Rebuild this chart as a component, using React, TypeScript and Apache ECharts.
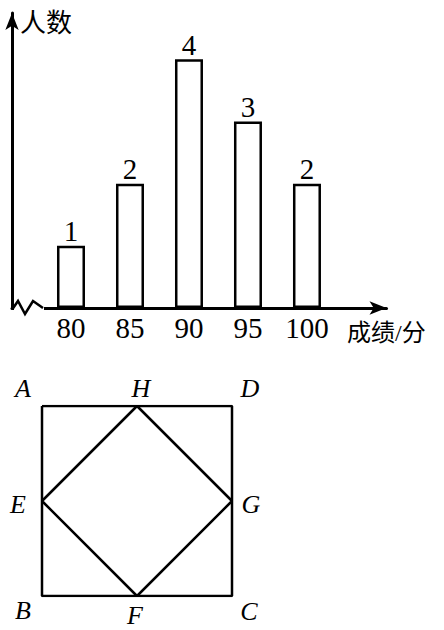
import React, { useEffect, useRef } from "react";
import * as echarts from "echarts";

// ---- bar chart data ----
const scores = [80, 85, 90, 95, 100];
const counts = [1, 2, 4, 3, 2];
const xTickLabels = [80, 85, 90, 95, 100];
const xAxisName = "成绩/分";
const yAxisName = "人数";

// ---- figure data (square ABCD with midpoints E, F, G, H) ----
const pointNames = ["A", "B", "C", "D", "E", "F", "G", "H"];
const pointX = [0, 0, 4, 4, 0, 2, 4, 2];
const pointY = [4, 0, 0, 4, 2, 0, 2, 4];
const squarePath = ["A", "B", "C", "D", "A"];
const diamondPath = ["E", "F", "G", "H", "E"];

// label placement (style, not data)
const labelOffsets: Record<string, [number, number]> = {
  A: [-19, -18],
  B: [-19, 14],
  C: [17, 15],
  D: [18, -18],
  E: [-24, 3],
  F: [-2, 19],
  G: [19, 3],
  H: [4, -18],
};

const SERIF = "Liberation Serif, serif";
const CJK = "Liberation Serif, Noto Sans CJK SC, sans-serif";

const coord = (n: string) => {
  const i = pointNames.indexOf(n);
  return [pointX[i], pointY[i]];
};

export default function App() {
  const ref = useRef<HTMLDivElement>(null);
  useEffect(() => {
    if (!ref.current) return;
    const chart = echarts.init(ref.current, undefined, { renderer: "svg" });
    const axisLineStyle = { color: "#000", width: 3 };
    chart.setOption({
      animation: false,
      backgroundColor: "#fff",
      textStyle: { fontFamily: SERIF },
      grid: [
        { left: 12, top: 13, width: 374.5, height: 295 },
        { left: 42, top: 406, width: 190, height: 190 },
      ],
      xAxis: [
        {
          gridIndex: 0,
          type: "value",
          min: 75,
          max: 106.74,
          interval: 5,
          splitLine: { show: false },
          axisTick: { show: false },
          axisLabel: { show: false },
          axisLine: {
            show: true,
            onZero: false,
            symbol: ["none", "arrow"],
            symbolSize: [10, 17],
            lineStyle: axisLineStyle,
          },
        },
        { gridIndex: 1, type: "value", min: 0, max: 4, show: false },
      ],
      yAxis: [
        {
          gridIndex: 0,
          type: "value",
          min: 0,
          max: 4.745,
          splitLine: { show: false },
          axisTick: { show: false },
          axisLabel: { show: false },
          axisLine: {
            show: true,
            onZero: false,
            symbol: ["none", "arrow"],
            symbolSize: [10, 17],
            lineStyle: axisLineStyle,
          },
        },
        { gridIndex: 1, type: "value", min: 0, max: 4, show: false },
      ],
      series: [
        {
          type: "bar",
          xAxisIndex: 0,
          yAxisIndex: 0,
          barWidth: 28,
          data: scores.map((s, i) => [s, counts[i]]),
          itemStyle: { color: "#fff", borderColor: "#000", borderWidth: 2.5 },
          label: {
            show: true,
            position: "top",
            distance: 0,
            fontSize: 29,
            fontFamily: SERIF,
            color: "#000",
            formatter: (p: any) => String(p.value[1]),
          },
        },
        {
          // x-axis tick labels, placed through the x scale
          type: "scatter",
          xAxisIndex: 0,
          yAxisIndex: 0,
          symbolSize: 0,
          clip: false,
          silent: true,
          itemStyle: { opacity: 1, color: "#000" },
          data: xTickLabels.map((v) => [v, 0]),
          label: {
            show: true,
            position: "bottom",
            distance: 5,
            fontSize: 29,
            fontFamily: SERIF,
            color: "#000",
            formatter: (p: any) => String(p.value[0]),
          },
        },
        {
          type: "line",
          xAxisIndex: 1,
          yAxisIndex: 1,
          symbol: "none",
          data: squarePath.map(coord),
          lineStyle: { color: "#000", width: 2.5 },
        },
        {
          type: "line",
          xAxisIndex: 1,
          yAxisIndex: 1,
          symbol: "none",
          data: diamondPath.map(coord),
          lineStyle: { color: "#000", width: 2.5 },
        },
        {
          type: "scatter",
          xAxisIndex: 1,
          yAxisIndex: 1,
          symbolSize: 0,
          silent: true,
          itemStyle: { opacity: 1, color: "#000" },
          data: pointNames.map((n, i) => ({
            name: n,
            value: [pointX[i], pointY[i]],
            label: { offset: labelOffsets[n] },
          })),
          label: {
            show: true,
            position: "inside",
            formatter: (p: any) => p.name,
            fontSize: 26,
            fontStyle: "italic",
            fontFamily: SERIF,
            color: "#000",
          },
        },
      ],
      graphic: [
        {
          type: "rect",
          z: 100,
          shape: { x: 14, y: 303, width: 30, height: 10 },
          style: { fill: "#fff" },
        },
        {
          type: "polyline",
          z: 101,
          shape: {
            points: [
              [12.5, 309],
              [18, 301],
              [25, 314],
              [33, 301],
              [43, 308],
            ],
          },
          style: { stroke: "#000", lineWidth: 2.5, fill: null },
        },
        {
          type: "text",
          z: 101,
          x: 20,
          y: 23,
          style: {
            text: yAxisName,
            fontSize: 26,
            fontFamily: CJK,
            fill: "#000",
            align: "left",
            verticalAlign: "middle",
          },
        },
        {
          type: "text",
          z: 101,
          x: 347,
          y: 333,
          style: {
            text: xAxisName,
            fontSize: 24,
            fontFamily: CJK,
            fill: "#000",
            align: "left",
            verticalAlign: "middle",
          },
        },
      ],
    });
    return () => chart.dispose();
  }, []);
  return (
    <div
      ref={ref}
      style={{ position: "absolute", left: 0, top: 0, width: 444, height: 630 }}
    />
  );
}
